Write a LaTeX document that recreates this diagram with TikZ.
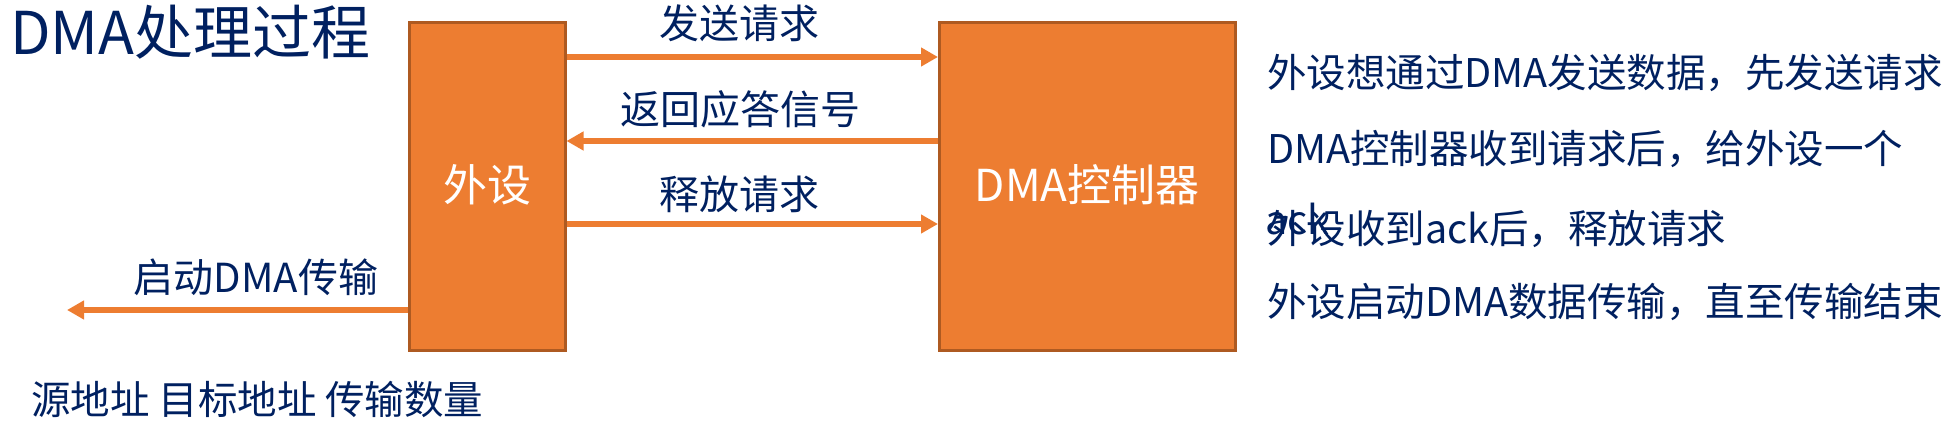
\documentclass[tikz,border=0pt]{standalone}
\usepackage{fontspec}
\setmainfont{Noto Sans CJK SC}
\usetikzlibrary{arrows.meta}
\definecolor{orangeA}{HTML}{ED7D31}
\definecolor{orangeB}{HTML}{AE5A21}
\definecolor{navy}{HTML}{002060}
\begin{document}
\begin{tikzpicture}[x=1bp,y=-1bp,
  box/.style={draw=orangeB, line width=3bp, fill=orangeA, text=white,
    font=\fontsize{44bp}{50bp}\selectfont, inner sep=0},
  lbl/.style={text=navy, font=\fontsize{40bp}{48bp}\selectfont, inner sep=0, anchor=base},
  lblw/.style={lbl, anchor=base west},
  note/.style={lblw, font=\fontsize{39.5bp}{48bp}\selectfont},
  conn/.style={draw=orangeA, line width=6bp, -{Triangle[length=17bp,width=18bp]}}]
\useasboundingbox (0,0) rectangle (1952,435);
% boxes
\node[box, minimum width=155.5bp, minimum height=327.5bp] (wai) at (487.25,186.25) {};
\node[box, minimum width=295.5bp, minimum height=327.5bp] (dma) at (1087.25,186.25) {};
\node[text=white, font=\fontsize{44bp}{50bp}\selectfont, inner sep=0, anchor=base] (waiT) at (487.25,202) {外设};
\node[text=white, font=\fontsize{44bp}{50bp}\selectfont, inner sep=0, anchor=base] (dmaT) at (1087.25,202) {DMA控制器};
% connector levels
\coordinate (y1) at (0,57);
\coordinate (y2) at (0,141);
\coordinate (y3) at (0,224);
\coordinate (y4) at (0,310);
\coordinate (far) at (67,310);
\draw[conn] (wai.east |- y1) -- (dma.west |- y1);
\draw[conn] (dma.west |- y2) -- (wai.east |- y2);
\draw[conn] (wai.east |- y3) -- (dma.west |- y3);
\draw[conn] (wai.west |- y4) -- (far);
% labels
\node[lbl] (l1) at (739,39) {发送请求};
\node[lbl] (l2) at (740,125) {返回应答信号};
\node[lbl] (l3) at (739,210) {释放请求};
\node[lbl] (l4) at (256,293) {启动DMA传输};
% title and notes
\node[lblw, font=\fontsize{59bp}{66bp}\selectfont] (title) at (10,55) {DMA处理过程};
\node[note] (bottom) at (31,414) {源地址 目标地址 传输数量};
\node[note] (r1) at (1267,88) {外设想通过DMA发送数据，先发送请求};
\node[note] (r2) at (1267,164) {DMA控制器收到请求后，给外设一个};
\node[note] (r3) at (1267,244) {外设收到ack后，释放请求};
\node[note] (rack) at (1265,235) {ack};
\node[note] (r4) at (1267,317) {外设启动DMA数据传输，直至传输结束};
\end{tikzpicture}
\end{document}
